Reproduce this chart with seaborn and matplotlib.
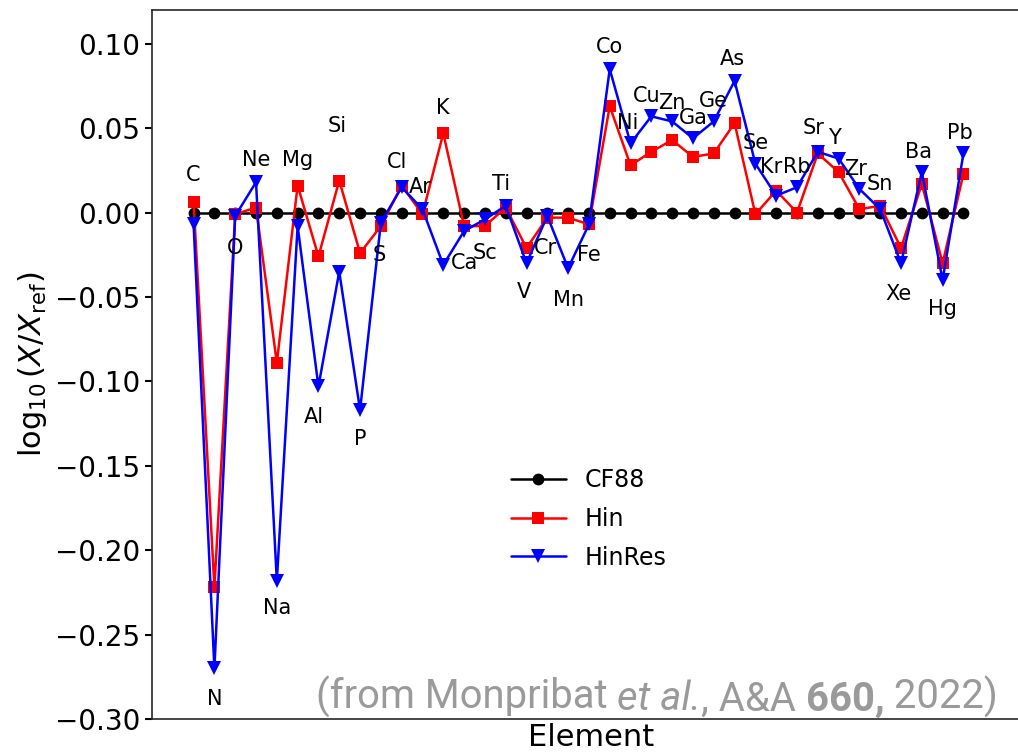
import numpy as np
import pandas as pd
import matplotlib
matplotlib.use('Agg')
import matplotlib.pyplot as plt
import seaborn as sns

# Elements in plotting order
elements = ['C', 'N', 'O', 'Ne', 'Na', 'Mg', 'Al', 'Si', 'P', 'S', 'Cl', 'Ar', 'K',
            'Ca', 'Sc', 'Ti', 'V', 'Cr', 'Mn', 'Fe', 'Co', 'Ni', 'Cu', 'Zn', 'Ga',
            'Ge', 'As', 'Se', 'Kr', 'Rb', 'Sr', 'Y', 'Zr', 'Sn', 'Xe', 'Ba', 'Hg', 'Pb']

# log10(X/Xref) for each model
cf88 = [0.0] * len(elements)
hin = [0.006, -0.222, -0.001, 0.003, -0.089, 0.016, -0.026, 0.019, -0.024, -0.008,
       0.016, -0.001, 0.047, -0.008, -0.008, 0.003, -0.021, -0.003, -0.003, -0.007,
       0.063, 0.028, 0.036, 0.043, 0.033, 0.035, 0.053, -0.001, 0.013, 0.0,
       0.035, 0.024, 0.002, 0.004, -0.021, 0.017, -0.030, 0.023]
hinres = [-0.007, -0.270, -0.002, 0.018, -0.218, -0.008, -0.103, -0.035, -0.117, -0.006,
          0.015, 0.002, -0.031, -0.011, -0.004, 0.004, -0.030, -0.002, -0.033, -0.007,
          0.085, 0.041, 0.057, 0.054, 0.044, 0.054, 0.078, 0.029, 0.010, 0.015,
          0.036, 0.032, 0.014, 0.002, -0.030, 0.024, -0.040, 0.035]

# where each element name sits (x shift in element units, y in data units)
label_dx = [0, 0, 0, 0, 0, 0, -0.2, -0.1, 0, -0.1, -0.2, -0.1, 0,
            0, 0, -0.2, -0.1, -0.1, 0, 0, 0, -0.15, -0.2, 0, 0,
            0, -0.1, 0, -0.25, 0, -0.2, -0.2, -0.2, 0, -0.1, -0.15, 0, -0.15]
label_y = [0.022, -0.288, -0.021, 0.031, -0.234, 0.031, -0.121, 0.051, -0.134, -0.025,
           0.030, 0.015, 0.062, -0.030, -0.024, 0.017, -0.047, -0.021, -0.052, -0.025,
           0.098, 0.053, 0.069, 0.065, 0.056, 0.066, 0.091, 0.041, 0.027, 0.027,
           0.050, 0.044, 0.026, 0.017, -0.048, 0.036, -0.057, 0.047]

df = pd.DataFrame({'idx': np.arange(len(elements)), 'element': elements,
                   'CF88': cf88, 'Hin': hin, 'HinRes': hinres})

sns.set_style('ticks')
plt.rcParams['font.family'] = ['DejaVu Sans']
plt.rcParams['text.color'] = 'black'
plt.rcParams['ytick.color'] = 'black'
plt.rcParams['axes.labelcolor'] = 'black'

fig = plt.figure(figsize=(10.18, 7.53), dpi=100)
ax = fig.add_axes([0.1493, 0.0452, 0.8625, 0.9415])

styles = {'CF88': ('black', 'o', 8.5), 'Hin': ('red', 's', 8.5), 'HinRes': ('blue', 'v', 9.5)}
for name, (col, mk, ms) in styles.items():
    sns.lineplot(data=df, x='idx', y=name, color=col, marker=mk, markersize=ms,
                 markeredgewidth=0, lw=1.8, label=name, ax=ax)

for i, el in enumerate(elements):
    ax.text(i + label_dx[i], label_y[i], el, fontsize=15, ha='center', va='center')

ax.set_xlim(-2, 40.2)
ax.set_ylim(-0.30, 0.12)
ax.set_yticks(np.arange(-0.30, 0.101, 0.05))
ax.set_xticks([])
ax.tick_params(axis='y', labelsize=20, length=5, width=1.5)
ax.set_xlabel('Element', fontsize=22, labelpad=3)
ax.set_ylabel(r'$\log_{10}(X/X_{\rm ref})$', fontsize=22)
for s in ax.spines.values():
    s.set_linewidth(1.2)

ax.legend(loc='upper left', bbox_to_anchor=(0.385, 0.384), frameon=False, fontsize=17,
          handlelength=2.3, labelspacing=0.63)

# citation note, drawn piece by piece so each style lines up on the baseline
grey = '#9a9a9a'
pieces = [('(from Monpribat ', 'normal', 'normal'), ('et al.', 'italic', 'normal'),
          (', A&A ', 'normal', 'normal'), ('660,', 'normal', 'bold'),
          (' 2022)', 'normal', 'normal')]
prev = fig.text(0.310, 0.046, pieces[0][0], fontsize=28.8, color=grey,
                family='Roboto', va='bottom', ha='left')
for txt, st, wt in pieces[1:]:
    prev = ax.annotate(txt, xy=(1, 0), xycoords=prev, va='bottom', ha='left',
                       fontsize=28.8, color=grey, family='Roboto', style=st, weight=wt)

fig.savefig('out.png', dpi=100)
